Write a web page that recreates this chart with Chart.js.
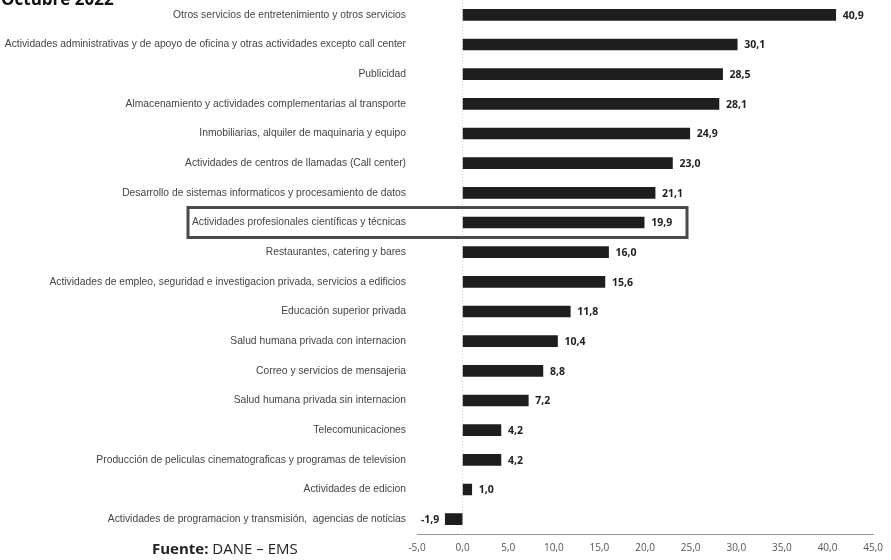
<!DOCTYPE html>
<html><head><meta charset="utf-8">
<script src="https://cdn.jsdelivr.net/npm/chart.js@4.4.1/dist/chart.umd.min.js"></script>
<style>
html,body{margin:0;padding:0;background:#fff;overflow:hidden}
#wrap{position:relative;width:891px;height:560px}
#title{position:absolute;left:1px;top:-13px;font:bold 17px "Open Sans",sans-serif;color:#111;white-space:nowrap}
#src{position:absolute;left:152px;top:538px;font:15px "Open Sans",sans-serif;color:#222;white-space:nowrap}
</style></head>
<body><div id="wrap"><canvas id="c" width="891" height="560"></canvas>
<div id="title">Octubre 2022</div>
<div id="src"><b>Fuente:</b> DANE – EMS</div></div>
<script>
const categories = [
  "Otros servicios de entretenimiento y otros servicios",
  "Actividades administrativas y de apoyo de oficina y otras actividades excepto call center",
  "Publicidad",
  "Almacenamiento y actividades complementarias al transporte",
  "Inmobiliarias, alquiler de maquinaria y equipo",
  "Actividades de centros de llamadas (Call center)",
  "Desarrollo de sistemas informaticos y procesamiento de datos",
  "Actividades profesionales científicas y técnicas",
  "Restaurantes, catering y bares",
  "Actividades de empleo, seguridad e investigacion privada, servicios a edificios",
  "Educación superior privada",
  "Salud humana privada con internacion",
  "Correo y servicios de mensajeria",
  "Salud humana privada sin internacion",
  "Telecomunicaciones",
  "Producción de peliculas cinematograficas y programas de television",
  "Actividades de edicion",
  "Actividades de programacion y transmisión,  agencias de noticias"
];
const values = [40.9, 30.1, 28.5, 28.1, 24.9, 23.0, 21.1, 19.9, 16.0, 15.6, 11.8, 10.4, 8.8, 7.2, 4.2, 4.2, 1.0, -1.9];
const xTickMin = -5;
const xTickMax = 45;
const xTickStep = 5;
const highlightIndex = 7;

const fmt = v => v.toFixed(1).replace('.', ',');

const valueLabels = {
  id: 'valueLabels',
  afterDatasetsDraw(chart) {
    const ctx = chart.ctx;
    const meta = chart.getDatasetMeta(0);
    ctx.save();
    ctx.font = 'bold 10.5px "Open Sans", sans-serif';
    ctx.fillStyle = '#222';
    ctx.textBaseline = 'middle';
    meta.data.forEach((bar, i) => {
      const v = values[i];
      if (v >= 0) { ctx.textAlign = 'left'; ctx.fillText(fmt(v), bar.x + 7, bar.y + 1); }
      else { ctx.textAlign = 'right'; ctx.fillText(fmt(v), bar.x - 6, bar.y + 1); }
    });
    ctx.restore();
  }
};

const highlightBox = {
  id: 'highlightBox',
  afterDraw(chart) {
    const ctx = chart.ctx;
    const ys = chart.scales.y;
    const y = ys.getPixelForValue(highlightIndex);
    ctx.save();
    ctx.strokeStyle = '#4a4a4a';
    ctx.lineWidth = 3;
    ctx.strokeRect(188, y - 15, 687 - 188, 30);
    ctx.restore();
  }
};

new Chart(document.getElementById('c'), {
  type: 'bar',
  data: {
    labels: categories,
    datasets: [{
      data: values,
      backgroundColor: '#1e1e1e',
      borderWidth: 0,
      barThickness: 11
    }]
  },
  options: {
    indexAxis: 'y',
    responsive: false,
    animation: false,
    layout: { padding: { left: 0, right: 16, top: 0, bottom: 0 } },
    plugins: { legend: { display: false }, tooltip: { enabled: false } },
    scales: {
      x: {
        type: 'linear', min: xTickMin, max: xTickMax,
        ticks: { stepSize: xTickStep, callback: v => fmt(v), color: '#555', font: { size: 10, family: '"Open Sans", sans-serif' }, padding: 8 },
        grid: { drawTicks: false, color: c => (c.tick && c.tick.value === 0) ? '#cfcfcf' : 'rgba(0,0,0,0)' },
        border: { display: true, color: '#9a9a9a', dash: [1, 2], width: 1 },
        afterFit: s => { s.height = 26; }
      },
      y: {
        ticks: { color: '#444', font: { size: 10.3, family: '"Liberation Sans", sans-serif' }, padding: 11, autoSkip: false },
        grid: { display: false, drawTicks: false },
        border: { display: false },
        afterFit: s => { s.width = 417; s.paddingTop = 0; s.paddingBottom = 0; }
      }
    }
  },
  plugins: [valueLabels, highlightBox]
});
</script>
</body></html>
